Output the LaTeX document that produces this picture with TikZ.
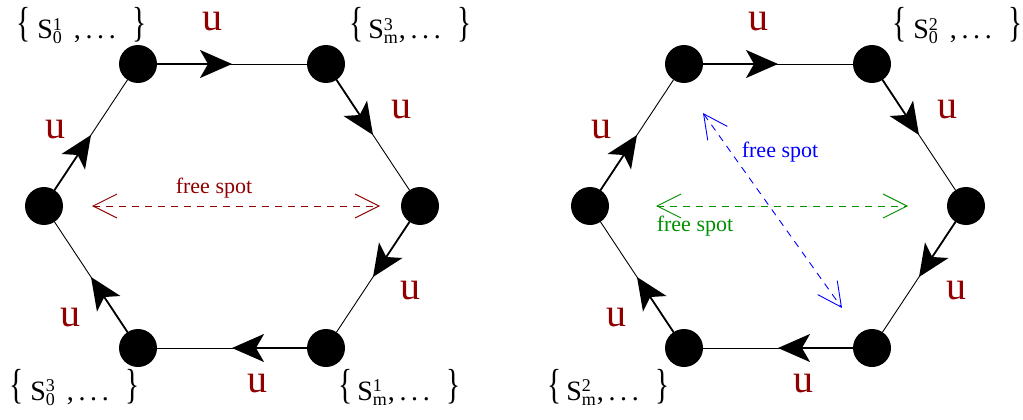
\documentclass[tikz,border=0pt]{standalone}
\usepackage{fontspec}
\setmainfont{Liberation Serif}
\usetikzlibrary{arrows.meta,calc}
\definecolor{ured}{HTML}{900000}
\definecolor{sgreen}{HTML}{009000}
\definecolor{sblue}{HTML}{0000FF}
\newcommand{\stk}[2]{\raisebox{-5pt}{\fontsize{18}{18}\selectfont\vbox{\baselineskip=14pt\lineskiplimit=-20pt\hbox{#2}\hbox{#1}}}}
\newcommand{\bbr}[1]{\raisebox{2pt}{\scalebox{.7}[1]{\fontsize{42}{42}\selectfont#1}}}
\newcommand{\setlab}[4]{\bbr{\{}\hspace{#3}S\stk{#1}{#2}\hspace{#4},\,.\,.\,.\hspace{17pt}\bbr{\}}}
\begin{document}
\begin{tikzpicture}[x=1pt,y=-1pt,
  vtx/.style={circle,fill,inner sep=0pt,minimum size=38pt},
  ulab/.style={text=ured,font=\fontsize{40}{40}\selectfont},
  slab/.style={font=\fontsize{28}{30}\selectfont,inner sep=0pt,anchor=base west},
  spot/.style={dash pattern=on 7pt off 6pt,line width=.9pt,{Straight Barb[length=24pt,width=24pt]}-{Straight Barb[length=24pt,width=24pt]}},
  flab/.style={font=\fontsize{22}{22}\selectfont}]
\useasboundingbox (0,0) rectangle (1023,420);
% two hexagons, clockwise u-moves
\foreach \h/\cx in {a/232,b/778}{
  \node[vtx] (\h1) at (\cx-94,64) {};\node[vtx] (\h2) at (\cx+94,64) {};\node[vtx] (\h3) at (\cx+188,206) {};
  \node[vtx] (\h4) at (\cx+94,348) {};\node[vtx] (\h5) at (\cx-94,348) {};\node[vtx] (\h6) at (\cx-188,206) {};
  \foreach \i/\j in {1/2,2/3,3/4,4/5,5/6,6/1}{
    \draw[line width=.9pt] (\h\i) -- (\h\j);
    \draw[line width=1.8pt,-{Stealth[length=32pt,width=28pt,inset=8pt]}] (\h\i.center) -- ($(\h\i)!.5!(\h\j)$);}
  \foreach \dx/\dy [count=\k] in {-20/22,169/110,178/291,25/384,-162/318,-177/130}
    \node[ulab] (\h u\k) at (\cx+\dx,\dy) {u};
}
\node[slab] (a1l) at (16,39) {\setlab{0}{1}{7pt}{12pt}};\node[slab] (a2l) at (349,39) {\setlab{m}{3}{5pt}{1pt}};
\node[slab] (a5l) at (9,400) {\setlab{0}{3}{7pt}{12pt}};\node[slab] (a4l) at (338,400) {\setlab{m}{1}{5pt}{1pt}};
\node[slab] (b2l) at (892,39) {\setlab{0}{2}{7pt}{12pt}};\node[slab] (b5l) at (547,400) {\setlab{m}{2}{5pt}{1pt}};
% free spots
\coordinate (ar1) at (92,206);\coordinate (ar2) at (380,206);\draw[spot,ured] (ar1) -- (ar2);
\node[flab,text=ured] (arl) at (214,188) {free spot};
\coordinate (bg1) at (656,206);\coordinate (bg2) at (908,206);\draw[spot,sgreen] (bg1) -- (bg2);
\node[flab,text=sgreen] (bgl) at (695,226) {free spot};
\coordinate (bb1) at (703,113);\coordinate (bb2) at (842,308);\draw[spot,sblue] (bb1) -- (bb2);
\node[flab,text=sblue] (bbl) at (780,152) {free spot};
\end{tikzpicture}
\end{document}
